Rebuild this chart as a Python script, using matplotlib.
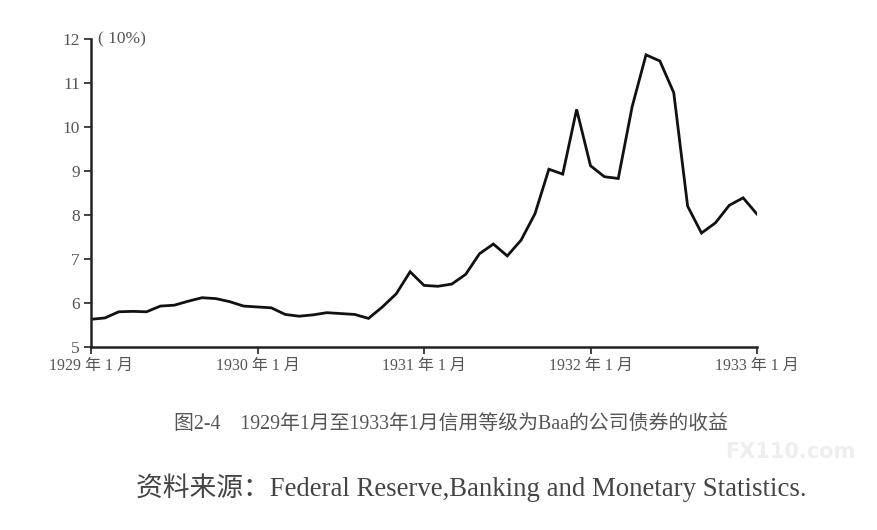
import matplotlib
matplotlib.use('Agg')
import matplotlib.pyplot as plt

# Baa corporate bond yield, monthly, Jan 1929 - Jan 1933
months = list(range(49))
yields = [5.63, 5.66, 5.80, 5.81, 5.80, 5.93, 5.95, 6.04, 6.12, 6.10,
          6.03, 5.93, 5.91, 5.89, 5.74, 5.70, 5.73, 5.78, 5.76, 5.74,
          5.65, 5.91, 6.21, 6.71, 6.40, 6.38, 6.43, 6.65, 7.12, 7.34,
          7.07, 7.43, 8.03, 9.04, 8.93, 10.40, 9.12, 8.87, 8.83, 10.46,
          11.64, 11.50, 10.78, 8.20, 7.59, 7.82, 8.22, 8.39, 8.02]

xtick_pos = [0, 12, 24, 36, 48]
xtick_labels = ['1929 年 1 月', '1930 年 1 月', '1931 年 1 月', '1932 年 1 月', '1933 年 1 月']
ytick_pos = [5, 6, 7, 8, 9, 10, 11, 12]

caption = '图2-4    1929年1月至1933年1月信用等级为Baa的公司债券的收益'
source = '资料来源：Federal Reserve,Banking and Monetary Statistics.'

fonts = ['Liberation Serif', 'Noto Sans CJK SC', 'DejaVu Sans']
plt.rcParams['font.family'] = fonts
grey = '#555555'

fig = plt.figure(figsize=(8.77, 5.30), dpi=100)
ax = fig.add_axes([91 / 877, 1 - 347 / 530, 666 / 877, 308 / 530])

ax.plot(months, yields, color='#111111', linewidth=2.0, solid_joinstyle='miter')

ax.set_xlim(0, 48)
ax.set_ylim(5, 12)
ax.set_xticks(xtick_pos)
ax.set_xticklabels(xtick_labels)
ax.set_yticks(ytick_pos)

for side in ['top', 'right']:
    ax.spines[side].set_visible(False)
for side in ['left', 'bottom']:
    ax.spines[side].set_linewidth(1.8)
    ax.spines[side].set_color('#222222')
ax.tick_params(axis='both', direction='out', length=5, width=1.2, color='#222222',
               labelsize=11.5, labelcolor=grey, pad=3)
ax.tick_params(axis='y', labelsize=12.5)

ax.text(0.01, 1.0, '( 10%)', transform=ax.transAxes, fontsize=12.5, color=grey,
        va='center', ha='left')

fig.text(451 / 877, 1 - 424 / 530, caption, fontsize=14.3, color=grey,
         ha='center', va='center')
fig.text(471 / 877, 1 - 488 / 530, source, fontsize=19.3, color='#444444',
         ha='center', va='center')
fig.text(790 / 877, 1 - 452 / 530, 'FX110.com', fontsize=15, color='#eeeeee',
         ha='center', va='center', fontweight='bold', family='DejaVu Sans', zorder=0)

fig.savefig('out.png', dpi=100)
